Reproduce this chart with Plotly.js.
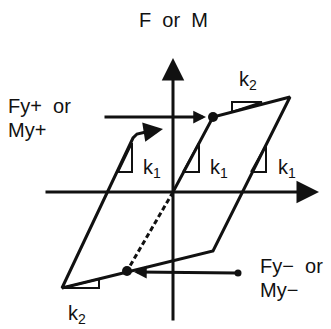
<!DOCTYPE html>
<html>
<head>
<meta charset="utf-8">
<script src="https://cdn.plot.ly/plotly-3.0.1.min.js"></script>
<style>
  html, body { margin: 0; padding: 0; background: #fff; }
  #chart { width: 331px; height: 329px; }
</style>
</head>
<body>
<div id="chart"></div>
<script>
// Bilinear hysteresis sketch: force/moment vs. displacement/rotation.
// Coordinates are in a drawing frame (x to the right, y downward).

// Hysteresis loop: origin -> yield -> peak -> unloading -> reverse peak -> reloading
const loopX = [173, 213, 290, 213, 62, 133, 137, 146];
const loopY = [192, 117, 97, 251, 288, 138, 134, 132];

// Elastic unloading path from origin to the reverse yield point (dashed)
const dashX = [173, 127];
const dashY = [192, 271];

// Yield points and the lower arrow's tail point
const dotX = [213, 127];
const dotY = [117, 271];
const tailX = [238];
const tailY = [273];

// Slope indicators (k1: elastic stiffness, k2: post-yield stiffness)
const k1Left = { x: [118, 132, 132, 118], y: [172, 172, 143, 172] };
const k1Mid = { x: [183, 199, 199, 183], y: [172, 172, 143, 172] };
const k1Right = { x: [251, 266, 266, 251], y: [172, 172, 145, 172] };
const k2Top = { x: [232, 232, 262, 232], y: [112, 102, 102, 112] };
const k2Bottom = { x: [62, 99, 99, 62], y: [288, 288, 279, 288] };

// Arrows: tail x, tail y, head x, head y
const axisArrows = [
  [173, 322, 173, 58],   // vertical axis
  [44, 192, 319, 192]    // horizontal axis
];
const levelArrows = [
  [103, 117, 206, 117],  // Fy+ level
  [238, 273, 134, 272]   // Fy- level
];
const reloadArrow = [144, 132, 163, 129];

// Labels: text, x, y, anchor
const labels = [
  ['F  or  M', 173, 20, 'center'],
  ['Fy+  or', 6, 106, 'left'],
  ['My+', 6, 130, 'left'],
  ['Fy\u2212  or', 258, 266, 'left'],
  ['My\u2212', 258, 290, 'left'],
  ['k<sub>2</sub>', 237, 80, 'left'],
  ['k<sub>1</sub>', 141, 168, 'left'],
  ['k<sub>1</sub>', 208, 168, 'left'],
  ['k<sub>1</sub>', 276, 168, 'left'],
  ['k<sub>2</sub>', 66, 314, 'left']
];

const ink = '#111';
const lw = 3;

function tri(t) {
  return { x: t.x, y: t.y, mode: 'lines', line: { color: ink, width: 2 }, hoverinfo: 'skip' };
}

const traces = [
  { x: loopX, y: loopY, mode: 'lines', line: { color: ink, width: lw }, hoverinfo: 'skip' },
  { x: dashX, y: dashY, mode: 'lines', line: { color: ink, width: lw, dash: '5px,3px' }, hoverinfo: 'skip' },
  tri(k1Left), tri(k1Mid), tri(k1Right), tri(k2Top), tri(k2Bottom),
  { x: dotX, y: dotY, mode: 'markers', marker: { color: ink, size: 10 }, hoverinfo: 'skip' },
  { x: tailX, y: tailY, mode: 'markers', marker: { color: ink, size: 7 }, hoverinfo: 'skip' }
];

const font = { family: 'Liberation Sans, Arial, sans-serif', size: 20, color: ink };

function arrow(a, size) {
  return {
    x: a[2], y: a[3], ax: a[0], ay: a[1], xref: 'x', yref: 'y', axref: 'x', ayref: 'y',
    text: '', showarrow: true, arrowhead: 2, arrowsize: size, arrowwidth: 3,
    arrowcolor: ink, standoff: 0
  };
}

const annotations = [];
axisArrows.forEach(a => annotations.push(arrow(a, 1.5)));
levelArrows.forEach(a => annotations.push(arrow(a, 0.85)));
annotations.push(arrow(reloadArrow, 1.3));
labels.forEach(l => annotations.push({
  text: l[0], x: l[1], y: l[2], xref: 'x', yref: 'y', xanchor: l[3], yanchor: 'middle',
  showarrow: false, font: font
}));

const layout = {
  width: 331, height: 329,
  margin: { l: 0, r: 0, t: 0, b: 0 },
  paper_bgcolor: '#fff', plot_bgcolor: '#fff',
  showlegend: false,
  xaxis: { range: [0, 331], visible: false, fixedrange: true },
  yaxis: { range: [329, 0], visible: false, fixedrange: true },
  annotations: annotations
};

Plotly.newPlot('chart', traces, layout, { staticPlot: true, displayModeBar: false });
</script>
</body>
</html>
